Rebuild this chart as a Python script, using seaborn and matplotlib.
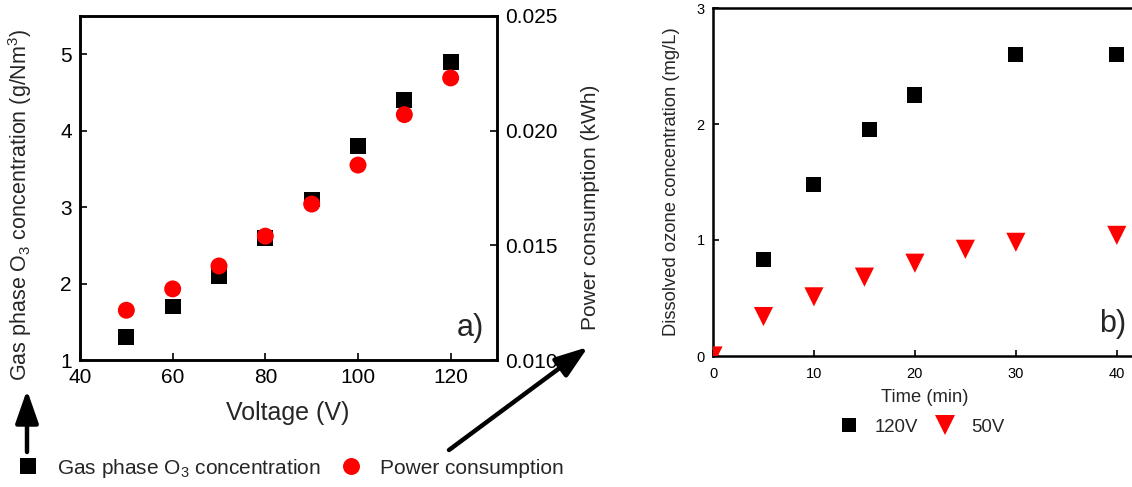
import matplotlib
matplotlib.use("Agg")
import matplotlib.pyplot as plt
import seaborn as sns
import pandas as pd
from matplotlib.lines import Line2D
from matplotlib.ticker import StrMethodFormatter

# ---- data (panel a) ----
voltage = [50, 60, 70, 80, 90, 100, 110, 120]
gas_o3 = [1.3, 1.7, 2.1, 2.6, 3.1, 3.8, 4.4, 4.9]
power_kwh = [0.01217, 0.0131, 0.0141, 0.0154, 0.0168, 0.0185, 0.0207, 0.0223]

# ---- data (panel b) ----
time_120 = [5, 10, 15.5, 20, 30, 40]
ozone_120 = [0.83, 1.475, 1.95, 2.25, 2.6, 2.6]
time_50 = [0, 5, 10, 15, 20, 25, 30, 40]
ozone_50 = [0.0, 0.34, 0.51, 0.68, 0.80, 0.92, 0.98, 1.04]

sns.set_style("ticks")
plt.rcParams['font.family'] = ['Liberation Sans', 'DejaVu Sans']
plt.rcParams['mathtext.fontset'] = 'custom'
plt.rcParams['mathtext.rm'] = 'Liberation Sans'
plt.rcParams['mathtext.it'] = 'Liberation Sans:italic'
plt.rcParams['mathtext.bf'] = 'Liberation Sans:bold'

W, H = 1132, 487
fig = plt.figure(figsize=(W / 100, H / 100), dpi=100)

def fx(px):
    return px / W

def fy(py):
    return 1 - py / H

# ---------------- panel a ----------------
ax = fig.add_axes([fx(80), fy(360), fx(417), 344 / H])
ax2 = ax.twinx()
df_a = pd.DataFrame({"Voltage": voltage, "O3": gas_o3, "Power": power_kwh})
sns.scatterplot(data=df_a, x="Voltage", y="O3", ax=ax, marker="s", s=128,
                color="black", edgecolor="none", linewidth=0, legend=False, zorder=3)
sns.scatterplot(data=df_a, x="Voltage", y="Power", ax=ax2, marker="o", s=149,
                color="#ff0000", edgecolor="none", linewidth=0, legend=False, zorder=3)
ax.set_xlim(40, 130)
ax.set_ylim(1, 5.5)
ax2.set_ylim(0.010, 0.025)
ax.set_xticks([40, 60, 80, 100, 120])
ax.set_yticks([1, 2, 3, 4, 5])
ax2.set_yticks([0.010, 0.015, 0.020, 0.025])
ax2.yaxis.set_major_formatter(StrMethodFormatter("{x:.3f}"))
ax.set_xlabel("")
ax.set_ylabel("")
ax2.set_ylabel("")
for a in (ax, ax2):
    for sp in a.spines.values():
        sp.set_visible(True)
        sp.set_linewidth(1.8)
        sp.set_color("black")
ax.tick_params(axis="both", direction="in", length=5, width=1.2, labelsize=15,
               pad=6, colors="black", top=False, right=False)
ax2.tick_params(axis="y", direction="in", length=5, width=1.2, labelsize=15,
                pad=6, colors="black")

fig.text(fx(20), fy(205), "Gas phase O$_3$ concentration (g/Nm$^3$)", rotation=90,
         ha="center", va="center", fontsize=15.5)
fig.text(fx(590), fy(207), "Power consumption (kWh)", rotation=90,
         ha="center", va="center", fontsize=15)
fig.text(fx(288), fy(413), "Voltage (V)", ha="center", va="center", fontsize=18)
fig.text(fx(470), fy(328), "a)", ha="center", va="center", fontsize=22)

# arrows
arrow_kw = dict(arrowstyle="-|>,head_length=1.0,head_width=0.35", lw=3.2,
                color="black", mutation_scale=20, shrinkA=0, shrinkB=0)
ax.annotate("", xy=(27, H - 390), xytext=(27, H - 452), xycoords="figure pixels",
            textcoords="figure pixels", arrowprops=arrow_kw, annotation_clip=False)
ax.annotate("", xy=(588, H - 347), xytext=(449, H - 450), xycoords="figure pixels",
            textcoords="figure pixels", arrowprops=arrow_kw, annotation_clip=False)

handles_a = [Line2D([], [], marker="s", ls="", color="black", markersize=11, markeredgewidth=0),
             Line2D([], [], marker="o", ls="", color="#ff0000", markersize=12.2, markeredgewidth=0)]
fig.legend(handles_a, ["Gas phase O$_3$ concentration", "Power consumption"],
           loc="center left", bbox_to_anchor=(fx(17.1), fy(468)), ncol=2,
           frameon=False, fontsize=15, handlelength=1.0, handletextpad=0.92,
           columnspacing=0.94, borderpad=0, borderaxespad=0)

# ---------------- panel b ----------------
bx = fig.add_axes([fx(713), fy(356), fx(424), 348 / H])
df_120 = pd.DataFrame({"Time": time_120, "Ozone": ozone_120})
df_50 = pd.DataFrame({"Time": time_50, "Ozone": ozone_50})
sns.scatterplot(data=df_120, x="Time", y="Ozone", ax=bx, marker="s", s=117,
                color="black", edgecolor="none", linewidth=0, legend=False, zorder=3)
sns.scatterplot(data=df_50, x="Time", y="Ozone", ax=bx, marker="v", s=190,
                color="#ff0000", edgecolor="none", linewidth=0, legend=False, zorder=3)
bx.set_xlim(0, 42)
bx.set_ylim(0, 3)
bx.set_xticks([0, 10, 20, 30, 40])
bx.set_yticks([0, 1, 2, 3])
bx.set_xlabel("")
bx.set_ylabel("")
for sp in bx.spines.values():
    sp.set_visible(True)
    sp.set_linewidth(1.8)
    sp.set_color("black")
bx.tick_params(axis="both", direction="in", length=4, width=1.2, labelsize=10.5,
               colors="black")
bx.tick_params(axis="x", pad=8)
bx.tick_params(axis="y", pad=6)

fig.text(fx(672), fy(182), "Dissolved ozone concentration (mg/L)", rotation=90,
         ha="center", va="center", fontsize=13.2)
fig.text(fx(925), fy(398), "Time (min)", ha="center", va="center", fontsize=13.2)
fig.text(fx(1113), fy(324), "b)", ha="center", va="center", fontsize=22)

handles_b = [Line2D([], [], marker="s", ls="", color="black", markersize=10.3, markeredgewidth=0),
             Line2D([], [], marker="v", ls="", color="#ff0000", markersize=14.5, markeredgewidth=0)]
fig.legend(handles_b, ["120V", "50V"], loc="center left",
           bbox_to_anchor=(fx(839.7), fy(427)), ncol=2, frameon=False,
           fontsize=13.4, handlelength=1.0, handletextpad=0.9, columnspacing=0.94,
           borderpad=0, borderaxespad=0)

fig.savefig("out.png", dpi=100)
